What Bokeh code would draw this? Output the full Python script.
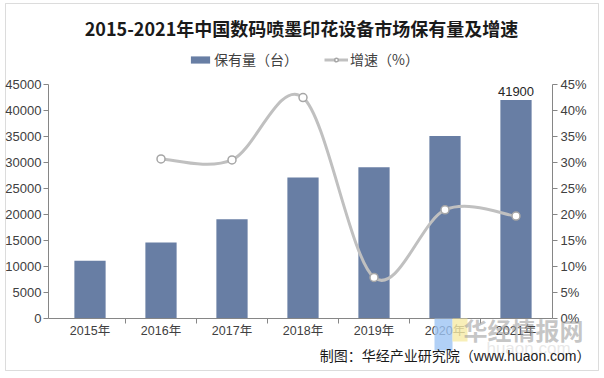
from bokeh.plotting import figure
from bokeh.models import (Range1d, LinearAxis, FixedTicker, Label, Legend,
                          LegendItem, ColumnDataSource, PrintfTickFormatter,
                          BoxAnnotation)
from bokeh.core.properties import value
from bokeh.embed import file_html
from bokeh.resources import INLINE

# ---- data ----
years = ["2015年", "2016年", "2017年", "2018年", "2019年", "2020年", "2021年"]
stock = [11000, 14500, 19000, 27000, 29000, 35000, 41900]          # 保有量（台）
growth = [None, 30.6, 30.4, 42.4, 7.8, 20.8, 19.6]                 # 增速（%）
left_ticks = [0, 5000, 10000, 15000, 20000, 25000, 30000, 35000, 40000, 45000]
right_ticks = [0, 5, 10, 15, 20, 25, 30, 35, 40, 45]

title_text = "2015-2021年中国数码喷墨印花设备市场保有量及增速"
source_text = "制图：华经产业研究院（www.huaon.com）"
watermark = "华经情报网"

FONT = "Liberation Sans, Noto Sans CJK SC"
CJK = "Noto Sans CJK SC"
BAR = "#687ea4"
LINE = "#c0c0c0"
AXIS = "#868686"
TXT = "#404040"

W, H = 600, 374
# plot-area geometry (pixels inside the figure)
PL, PR, PT, PB = 48, 552, 83.5, 317.5
STEP = 71.0          # category spacing in px
C0 = 89.5            # centre of first category in px
YMAX_L, YMAX_R = 45000, 45

xs = list(range(len(years)))


def xpx(px):
    return (px - C0) / STEP


ppu_l = (PB - PT) / YMAX_L
ppu_r = (PB - PT) / YMAX_R

p = figure(width=W, height=H, output_backend="svg", toolbar_location=None,
           x_axis_type=None, y_axis_type=None,
           x_range=Range1d(xpx(0), xpx(W)),
           y_range=Range1d(-(H - PB) / ppu_l, YMAX_L + PT / ppu_l),
           min_border=0)
p.extra_y_ranges = {"pct": Range1d(-(H - PB) / ppu_r, YMAX_R + PT / ppu_r)}
p.grid.visible = False
p.outline_line_color = None


def scr(**kw):
    return dict(x_units="screen", y_units="screen", **kw)


# chart border
p.add_layout(BoxAnnotation(left=5, right=598, top=H - 3, bottom=H - 370,
                           left_units="screen", right_units="screen",
                           top_units="screen", bottom_units="screen",
                           fill_alpha=0, line_color="#8c8c8c", line_width=1))

# bars
bar_src = ColumnDataSource(dict(x=xs, top=stock))
bars = p.vbar(x="x", top="top", width=0.44, bottom=0, source=bar_src,
              fill_color=BAR, line_color=None)

# label on last bar
last_src = ColumnDataSource(dict(x=[xs[-1]], y=[stock[-1]], t=[str(stock[-1])]))
p.text(x="x", y="y", text="t", source=last_src, text_align="center",
       text_baseline="bottom", y_offset=-4, text_font=value(FONT),
       text_font_size="13px", text_color="#262626")

# smoothed growth line (Catmull-Rom -> cubic Bezier)
pts = [(x, g) for x, g in zip(xs, growth) if g is not None]
n = len(pts)
seg = dict(x0=[], y0=[], x1=[], y1=[], cx0=[], cy0=[], cx1=[], cy1=[])
for i in range(n - 1):
    p0 = pts[max(i - 1, 0)]
    p1 = pts[i]
    p2 = pts[i + 1]
    p3 = pts[min(i + 2, n - 1)]
    seg["x0"].append(p1[0]); seg["y0"].append(p1[1])
    seg["x1"].append(p2[0]); seg["y1"].append(p2[1])
    seg["cx0"].append(p1[0] + (p2[0] - p0[0]) / 6)
    seg["cy0"].append(p1[1] + (p2[1] - p0[1]) / 6)
    seg["cx1"].append(p2[0] - (p3[0] - p1[0]) / 6)
    seg["cy1"].append(p2[1] - (p3[1] - p1[1]) / 6)
bez = p.bezier(x0="x0", y0="y0", x1="x1", y1="y1", cx0="cx0", cy0="cy0",
               cx1="cx1", cy1="cy1", source=ColumnDataSource(seg),
               line_color=LINE, line_width=3, y_range_name="pct")
pt_src = ColumnDataSource(dict(x=[q[0] for q in pts], y=[q[1] for q in pts]))
dots = p.scatter(x="x", y="y", source=pt_src, size=8, fill_color="white",
                 line_color="#a6a6a6", line_width=1.5, y_range_name="pct")

# axes (placed at fixed positions inside the full-size frame)
xa = LinearAxis(fixed_location=0, bounds=(xpx(PL), xpx(PR)),
                ticker=FixedTicker(ticks=xs, minor_ticks=[i + 0.5 for i in xs[:-1]]))
xa.major_label_overrides = {x: y for x, y in zip(xs, years)}
xa.major_tick_out = 0
xa.major_tick_in = 0
xa.minor_tick_out = 5
xa.minor_tick_in = 0
xa.axis_line_color = AXIS
xa.minor_tick_line_color = AXIS
xa.major_label_text_font = FONT
xa.major_label_text_font_size = "12.5px"
xa.major_label_text_color = TXT
xa.major_label_standoff = 1
p.add_layout(xa, "below")

ya = LinearAxis(fixed_location=xpx(PL), bounds=(0, YMAX_L),
                ticker=FixedTicker(ticks=left_ticks))
ya.axis_line_color = AXIS
ya.major_tick_line_color = AXIS
ya.major_tick_out = 5
ya.major_tick_in = 0
ya.minor_tick_line_color = None
ya.major_label_text_font = FONT
ya.major_label_text_font_size = "13px"
ya.major_label_text_color = TXT
ya.major_label_standoff = 2
p.add_layout(ya, "left")

ra = LinearAxis(y_range_name="pct", fixed_location=xpx(PR), bounds=(0, YMAX_R),
                ticker=FixedTicker(ticks=right_ticks),
                formatter=PrintfTickFormatter(format="%d%%"))
ra.axis_line_color = AXIS
ra.major_tick_line_color = AXIS
ra.major_tick_out = 5
ra.major_tick_in = 0
ra.minor_tick_line_color = None
ra.major_label_text_font = FONT
ra.major_label_text_font_size = "13px"
ra.major_label_text_color = TXT
ra.major_label_standoff = 3
p.add_layout(ra, "right")

# legend
legend = Legend(items=[LegendItem(label="保有量（台）", renderers=[bars]),
                       LegendItem(label="增速（%）", renderers=[bez, dots])],
                orientation="horizontal", location=(188, H - 69),
                background_fill_alpha=0, border_line_color=None,
                label_text_font=CJK, label_text_font_size="14px",
                label_text_color=TXT, glyph_width=24, glyph_height=9,
                spacing=26, padding=0, margin=0, label_standoff=2)
p.add_layout(legend)

# title
p.add_layout(Label(**scr(x=301, y=H - 27.5), text=title_text, text_align="center",
                   text_baseline="middle", text_font=CJK, text_font_size="18px",
                   text_font_style="bold", text_color="#1a1a1a"))

# watermark (logo + text)
p.add_layout(BoxAnnotation(left=434, right=452, top=H - 318, bottom=H - 350,
                           left_units="screen", right_units="screen",
                           top_units="screen", bottom_units="screen",
                           fill_color="#9ec4f4", fill_alpha=0.8, line_color=None))
p.add_layout(BoxAnnotation(left=452, right=467, top=H - 318, bottom=H - 341,
                           left_units="screen", right_units="screen",
                           top_units="screen", bottom_units="screen",
                           fill_color="#f6eba6", fill_alpha=0.8, line_color=None))
p.add_layout(Label(**scr(x=523, y=H - 329), text=watermark, text_align="center",
                   text_baseline="middle", text_font=CJK, text_font_size="24px",
                   text_font_style="bold", text_color="#a0a0a0", text_alpha=0.6))
p.add_layout(Label(**scr(x=528, y=H - 348), text="huaon.com", text_align="center",
                   text_baseline="middle", text_font=FONT, text_font_size="17px",
                   text_color="#d8d8d8", text_alpha=0.6))

# source
p.add_layout(Label(**scr(x=590, y=H - 355), text=source_text, text_align="right",
                   text_baseline="middle", text_font=FONT, text_font_size="14px",
                   text_color="#1a1a1a"))

open("out.html", "w").write(file_html(p, INLINE))
